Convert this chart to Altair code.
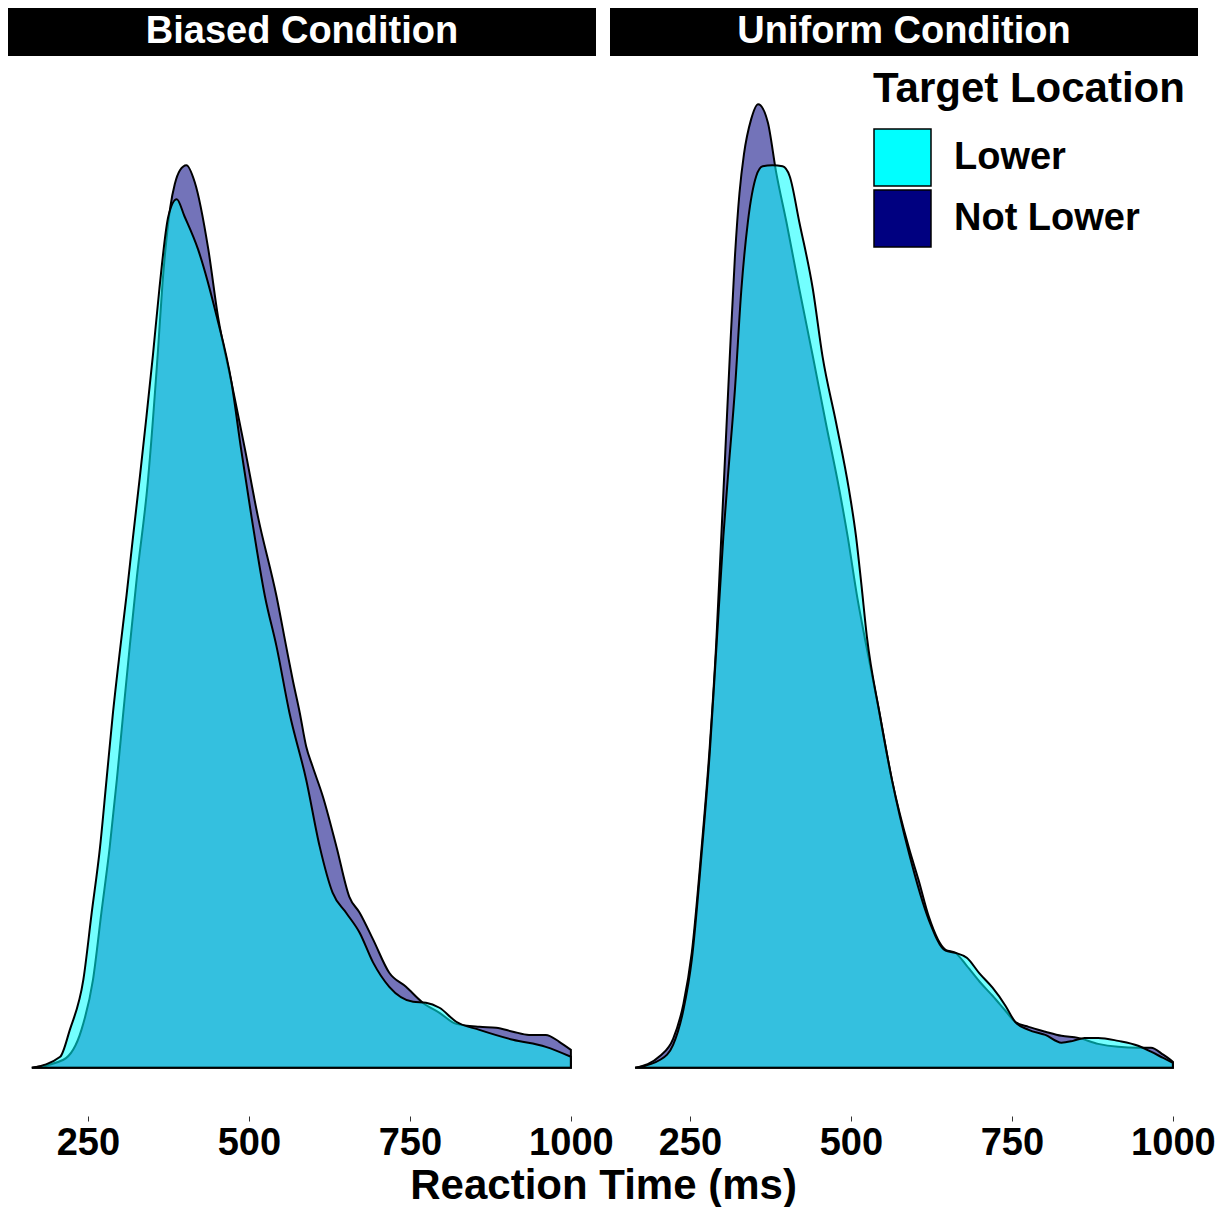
import altair as alt
import pandas as pd

CONDITIONS = ["Biased Condition", "Uniform Condition"]
LOCATIONS = ["Lower", "Not Lower"]
COLORS = ["#00FFFF", "#000080"]
X_TICKS = [250, 500, 750, 1000]

# Biased condition, target Lower (reaction time in ms, density x1000)
biased_lower_rt = [163, 207, 222, 243, 256, 269, 279, 289, 300, 310,
                   320, 331, 341, 351, 361, 375, 388, 400, 421, 450,
                   473, 488, 504, 525, 543, 563, 589, 610, 630, 651,
                   672, 693, 718, 755, 775, 796, 822, 858, 910, 961, 1000]
biased_lower_d = [0, 0.048, 0.165, 0.383, 0.674, 0.961, 1.252, 1.543, 1.817, 2.052,
                  2.304, 2.574, 2.830, 3.096, 3.383, 3.700, 3.774, 3.700, 3.557, 3.265,
                  2.978, 2.687, 2.396, 2.048, 1.830, 1.543, 1.252, 0.961, 0.761, 0.674,
                  0.587, 0.457, 0.352, 0.287, 0.283, 0.261, 0.200, 0.165, 0.122, 0.091, 0.048]

# Biased condition, target Not Lower
biased_not_rt = [163, 212, 240, 258, 271, 284, 295, 305, 315, 326,
                 343, 359, 366, 372, 378, 385, 393, 403, 416, 437, 452,
                 473, 494, 514, 543, 558, 568, 579, 589, 599, 615,
                 636, 656, 672, 693, 718, 744, 770, 796, 822, 858,
                 884, 910, 935, 961, 982, 1000]
biased_not_d = [0, 0.035, 0.165, 0.383, 0.674, 0.961, 1.252, 1.543, 1.830, 2.130,
                2.543, 3.122, 3.413, 3.600, 3.740, 3.840, 3.900, 3.922, 3.848, 3.557, 3.265,
                2.978, 2.687, 2.396, 2.048, 1.830, 1.687, 1.543, 1.396, 1.309, 1.178,
                0.961, 0.743, 0.674, 0.557, 0.413, 0.352, 0.283, 0.239, 0.191, 0.178,
                0.174, 0.157, 0.143, 0.143, 0.113, 0.078]

# Uniform condition, target Lower
uniform_lower_rt = [165, 204, 224, 240, 253, 268, 281, 291, 302, 309,
                    320, 330, 340, 353, 363, 378, 394, 405, 420, 441,
                    456, 477, 497, 508, 516, 525, 544, 564, 590, 621,
                    647, 662, 680, 700, 720, 740, 755, 776, 802, 827,
                    845, 863, 884, 915, 946, 966, 985, 1000]
uniform_lower_d = [0, 0.035, 0.100, 0.252, 0.470, 0.922, 1.374, 1.817, 2.309, 2.565,
                   2.948, 3.383, 3.674, 3.874, 3.917, 3.922, 3.917, 3.874, 3.674, 3.383,
                   3.091, 2.804, 2.513, 2.309, 2.109, 1.870, 1.548, 1.248, 0.935, 0.643,
                   0.509, 0.500, 0.478, 0.409, 0.348, 0.270, 0.200, 0.165, 0.143, 0.109,
                   0.117, 0.130, 0.130, 0.117, 0.096, 0.070, 0.043, 0.022]

# Uniform condition, target Not Lower
uniform_not_rt = [165, 204, 224, 240, 253, 268, 281, 291, 298, 305,
                  312, 320, 327, 334, 345, 356, 371, 384, 400, 420, 441,
                  461, 482, 495, 510, 523, 544, 564, 590, 605, 621,
                  647, 662, 680, 700, 720, 740, 755, 776, 802, 827,
                  853, 884, 915, 946, 966, 985, 1000]
uniform_not_d = [0, 0.052, 0.126, 0.278, 0.500, 0.948, 1.400, 1.848, 2.261, 2.674,
                 3.091, 3.526, 3.800, 3.970, 4.120, 4.187, 4.109, 3.891, 3.674, 3.383, 3.091,
                 2.804, 2.513, 2.309, 2.043, 1.848, 1.548, 1.248, 0.957, 0.817, 0.657,
                 0.513, 0.500, 0.443, 0.374, 0.313, 0.248, 0.200, 0.178, 0.157, 0.139,
                 0.130, 0.104, 0.091, 0.087, 0.087, 0.057, 0.026]


def frame(cond, loc, rt, dens):
    return pd.DataFrame({"condition": cond, "location": loc, "rt": rt, "density": dens})


df = pd.concat([
    frame(CONDITIONS[0], LOCATIONS[0], biased_lower_rt, biased_lower_d),
    frame(CONDITIONS[0], LOCATIONS[1], biased_not_rt, biased_not_d),
    frame(CONDITIONS[1], LOCATIONS[0], uniform_lower_rt, uniform_lower_d),
    frame(CONDITIONS[1], LOCATIONS[1], uniform_not_rt, uniform_not_d),
], ignore_index=True)

FONT = "Liberation Sans"
W, H = 588, 1060
STRIP = 48

x_scale = alt.Scale(domain=[126, 1039], nice=False, zero=False)
y_scale = alt.Scale(domain=[-0.2094, 4.3964], nice=False, zero=False)
color_scale = alt.Scale(domain=LOCATIONS, range=COLORS)

legend = alt.Legend(
    title="Target Location", orient="none", legendX=865, legendY=13,
    titleFont=FONT, titleFontSize=42, titleFontWeight="bold", titleColor="black",
    titlePadding=17, titleLimit=0, labelFont=FONT, labelFontSize=38,
    labelFontWeight="bold", labelLimit=0,
    labelColor="black", labelOffset=22, symbolType="square", symbolSize=3249,
    symbolStrokeColor="black", symbolStrokeWidth=1.5, symbolOpacity=1,
    rowPadding=-4, padding=0,
)


def panel(cond):
    sub = df[df["condition"] == cond]

    def area(loc):
        return alt.Chart(sub[sub["location"] == loc]).mark_area(
            fillOpacity=0.55, stroke="black", strokeWidth=2, interpolate="monotone"
        ).encode(
            x=alt.X("rt:Q", scale=x_scale,
                    axis=alt.Axis(values=X_TICKS, title=None, format="d")),
            y=alt.Y("density:Q", scale=y_scale, axis=None),
            color=alt.Color("location:N", scale=color_scale, legend=legend),
        )

    strip_df = pd.DataFrame({"condition": [cond]})
    strip = alt.Chart(strip_df).mark_rect(color="black").encode(
        x=alt.value(0), x2=alt.value(W), y=alt.value(-STRIP), y2=alt.value(0)
    )
    strip_text = alt.Chart(strip_df).mark_text(
        font=FONT, fontSize=38, fontWeight="bold", color="white",
        align="center", baseline="middle"
    ).encode(text="condition:N", x=alt.value(W / 2), y=alt.value(-STRIP / 2))

    return alt.layer(area("Not Lower"), area("Lower"), strip, strip_text).properties(
        width=W, height=H
    )


chart = alt.hconcat(
    panel(CONDITIONS[0]), panel(CONDITIONS[1]), spacing=14, bounds="flush"
).properties(
    padding=0,
    title=alt.TitleParams(
        text="Reaction Time (ms)", orient="bottom", anchor="middle",
        font=FONT, fontSize=42, fontWeight="bold", color="black", offset=4, dx=-8,
    ),
).configure_axis(
    labelFont=FONT, labelFontSize=38, labelFontWeight="bold", labelColor="black",
    tickColor="#333333", tickSize=5, tickWidth=1, domain=False, grid=False,
    labelPadding=3, labelFlush=False, labelOverlap=False,
).configure_view(stroke=None)

chart.save("out.html", embed_options={"renderer": "svg", "actions": False})
